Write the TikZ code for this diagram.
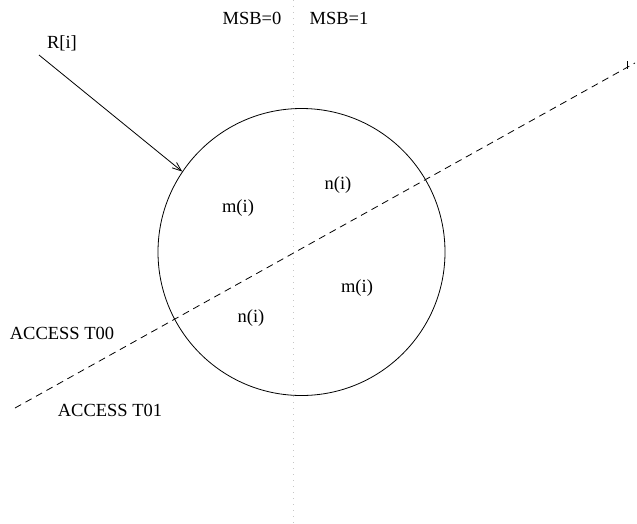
\documentclass[tikz,border=0pt]{standalone}
\usepackage{fontspec}
\setmainfont{Liberation Serif}
\usetikzlibrary{arrows.meta}
\begin{document}
\begin{tikzpicture}[x=1pt,y=-1pt,
  lbl/.style={font=\fontsize{18.5}{22}\selectfont, inner sep=0pt},
  thinline/.style={line width=0.8pt},
  divider/.style={line width=0.8pt, gray!45, dash pattern=on 1pt off 5pt},
  boundary/.style={line width=0.8pt, dash pattern=on 7pt off 5pt}]
\useasboundingbox (0,0) rectangle (637,523);
% vertical MSB divider
\coordinate (vt) at (293,0);
\coordinate (vb) at (293,523);
\draw[divider] (vt) -- (vb);
% circle
\node[draw, circle, thinline, minimum size=287pt, inner sep=0pt] (c) at (301.5,252) {};
% dashed access boundary
\coordinate (dl) at (15,408);
\coordinate (dr) at (635,63);
\draw[boundary] (dl) -- (dr);
\coordinate (tk1) at (627,61);
\coordinate (tk2) at (627,69);
\draw[thinline] (tk1) -- (tk2);
% arrow R[i]
\coordinate (rs) at (39,55);
\draw[thinline, -{Straight Barb[length=9pt,width=7pt]}] (rs) -- (c.146.5);
% labels
\node[lbl] (msb0) at (252,18) {MSB=0};
\node[lbl] (msb1) at (339,18) {MSB=1};
\node[lbl] (ri) at (62,43) {R[i]};
\node[lbl] (n1) at (338,185) {n(i)};
\node[lbl] (m1) at (238,208) {m(i)};
\node[lbl] (m2) at (357,288) {m(i)};
\node[lbl] (n2) at (251,318) {n(i)};
\node[lbl] (a0) at (62,333) {ACCESS T00};
\node[lbl] (a1) at (110,410) {ACCESS T01};
\end{tikzpicture}
\end{document}
